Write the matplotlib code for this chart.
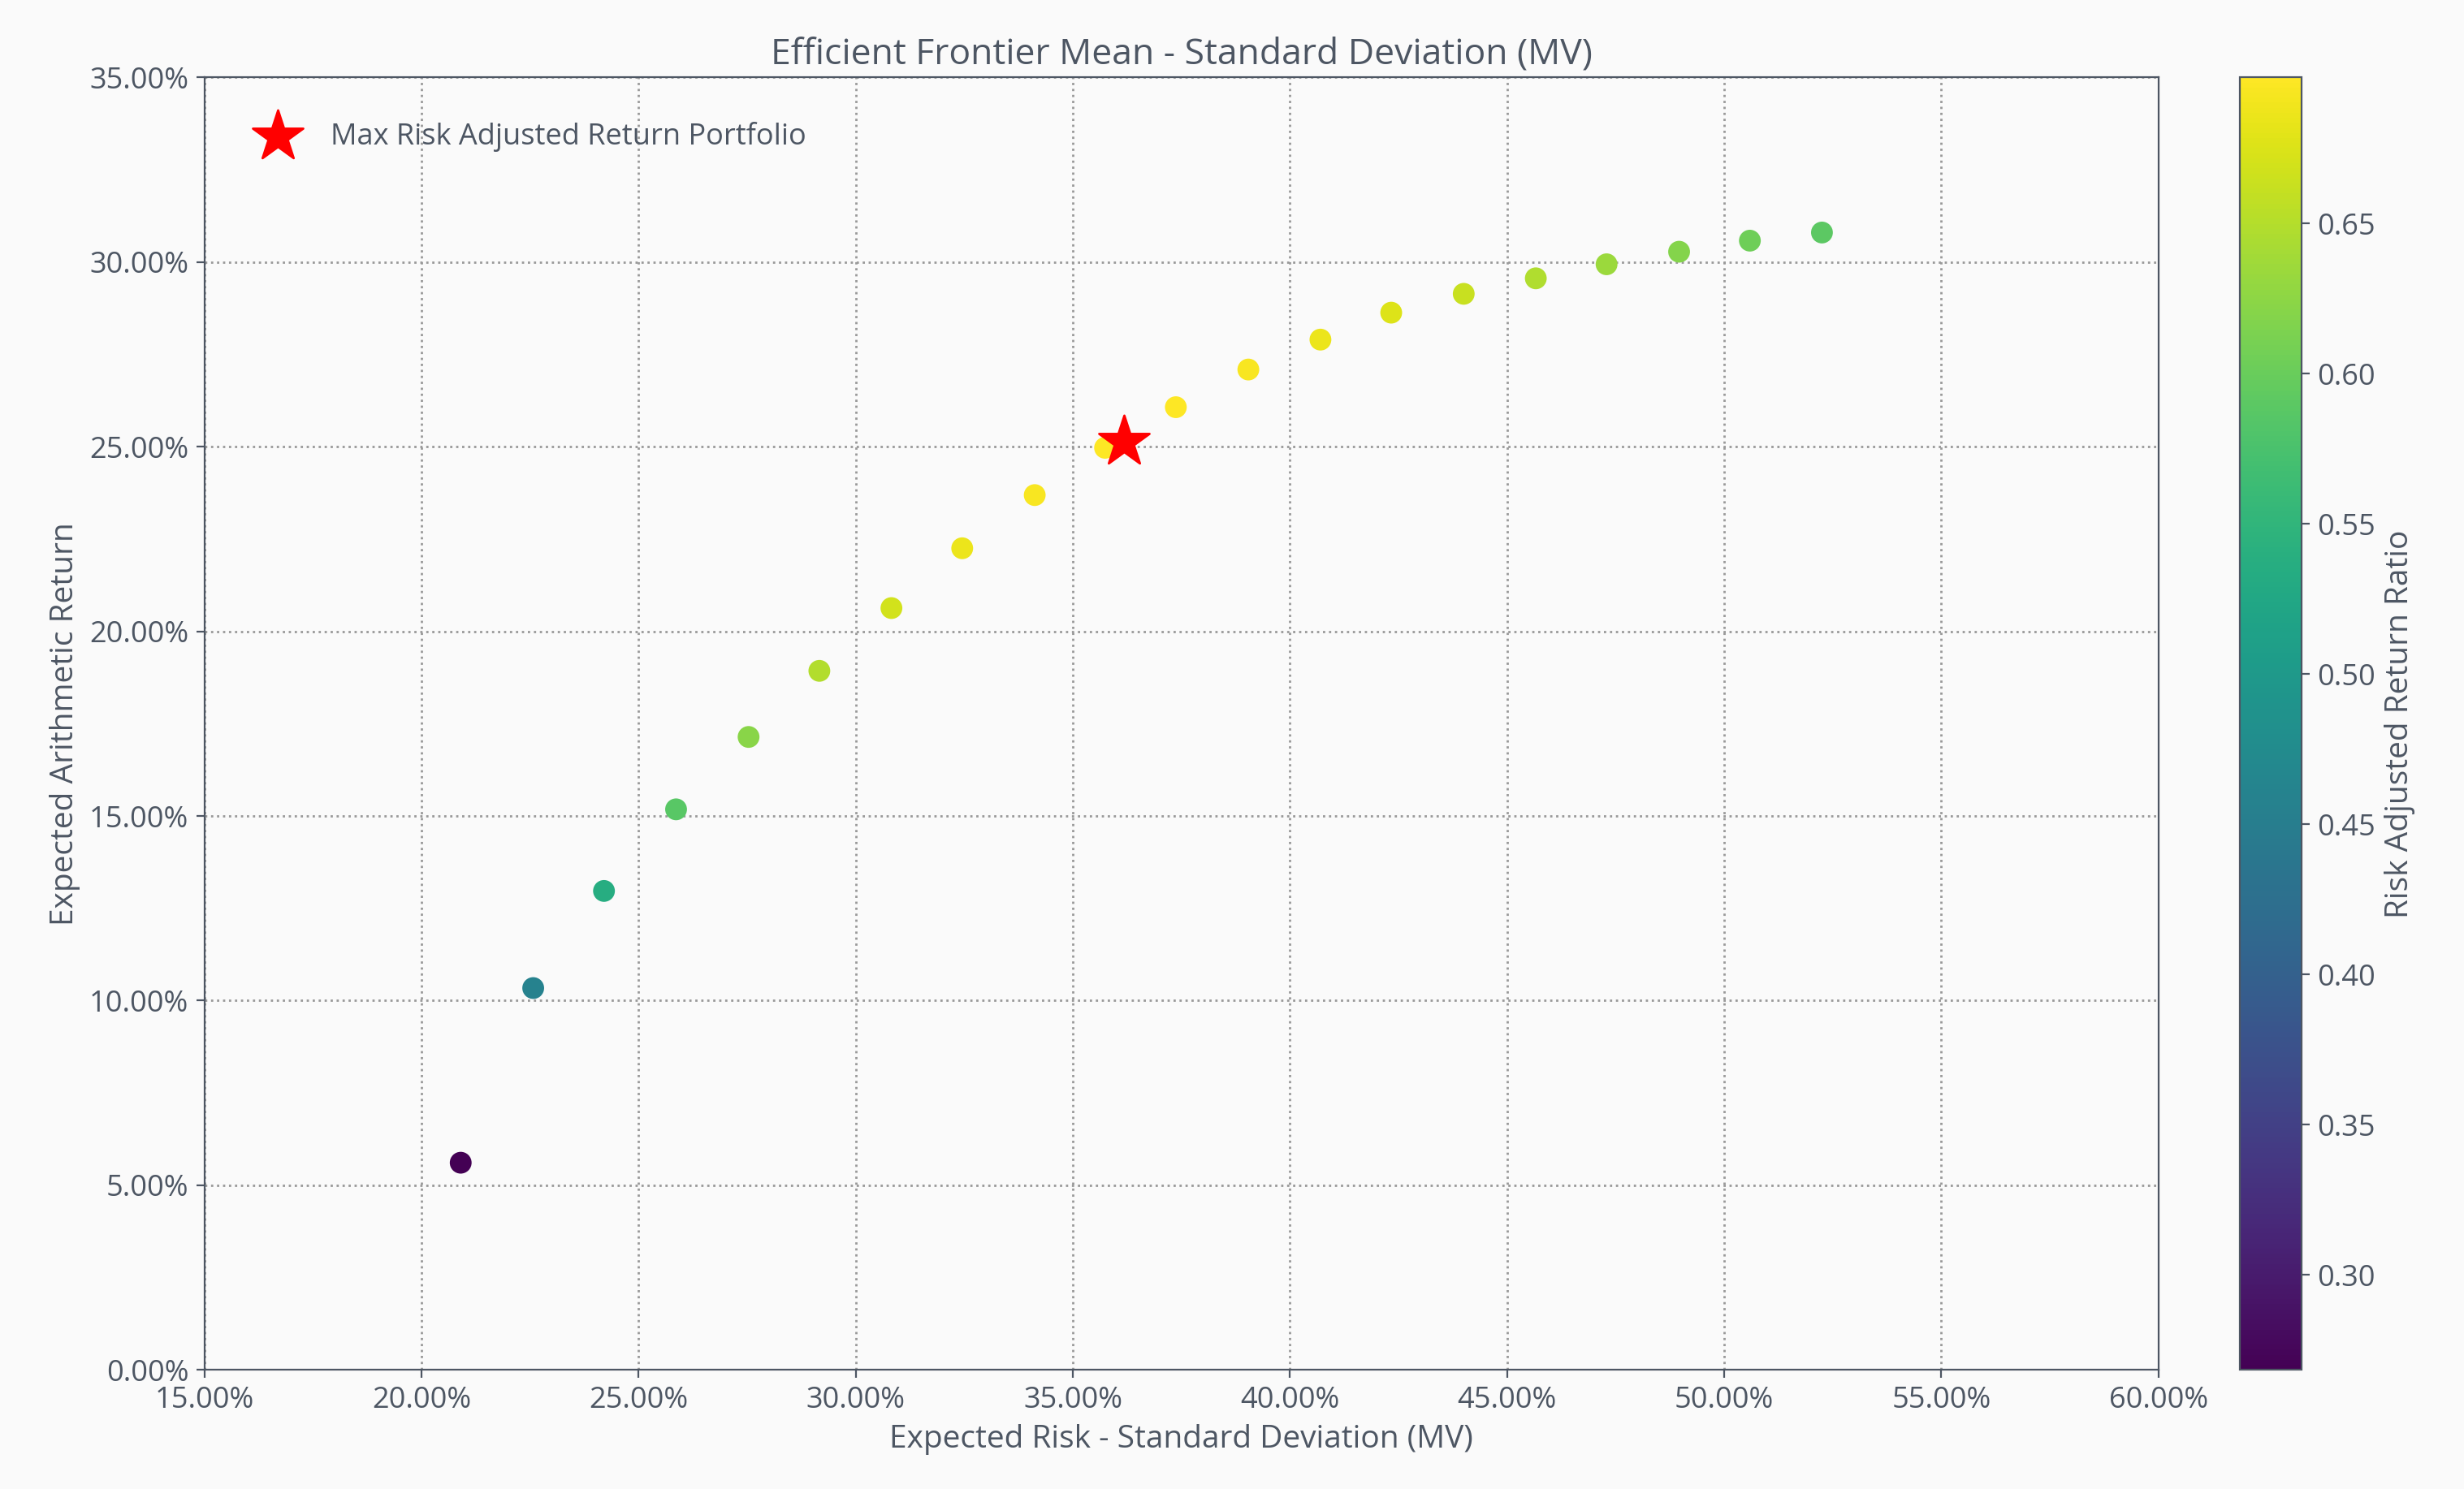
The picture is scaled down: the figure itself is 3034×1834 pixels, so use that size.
import numpy as np
import matplotlib
matplotlib.use('Agg')
from matplotlib import pyplot as plt
from matplotlib.ticker import PercentFormatter

risk = [20.9, 22.57, 24.2, 25.86, 27.53, 29.16, 30.82, 32.45, 34.12, 35.74,
        37.37, 39.04, 40.7, 42.33, 44.0, 45.66, 47.29, 48.96, 50.59, 52.25]
ret = [5.61, 10.34, 12.97, 15.18, 17.14, 18.93, 20.63, 22.25, 23.69, 24.97,
       26.07, 27.09, 27.9, 28.63, 29.14, 29.56, 29.94, 30.28, 30.58, 30.8]
best_risk, best_ret = 36.18, 25.13

x = np.array(risk) / 100
y = np.array(ret) / 100
ratio = y / x

txt = '#4d5663'
bg = '#fafafa'
plt.rcParams['font.family'] = ['Open Sans', 'DejaVu Sans']
plt.rcParams['text.color'] = txt
plt.rcParams['axes.labelcolor'] = txt
plt.rcParams['xtick.color'] = txt
plt.rcParams['ytick.color'] = txt

fig = plt.figure(figsize=(15.17, 9.17), dpi=200, facecolor=bg)
ax = fig.add_axes([0.083, 0.08, 0.793, 0.868], facecolor=bg)
cax = fig.add_axes([0.909, 0.08, 0.025, 0.868])

sc = ax.scatter(x, y, c=ratio, cmap='viridis', s=75, zorder=3)
ax.scatter([best_risk / 100], [best_ret / 100], marker='*', color='red', s=550,
           zorder=4, label='Max Risk Adjusted Return Portfolio')
cb = fig.colorbar(sc, cax=cax)
cb.set_label('Risk Adjusted Return Ratio', fontsize=14)
cb.ax.tick_params(labelsize=13)
cb.outline.set_edgecolor(txt)

ax.set_xlim(0.15, 0.60)
ax.set_ylim(0, 0.35)
ax.set_xticks(np.arange(0.15, 0.601, 0.05))
ax.set_yticks(np.arange(0, 0.351, 0.05))
ax.xaxis.set_major_formatter(PercentFormatter(1.0, decimals=2))
ax.yaxis.set_major_formatter(PercentFormatter(1.0, decimals=2))
ax.tick_params(labelsize=13)
ax.grid(True, linestyle=':', color='#999999', linewidth=1)
for s in ax.spines.values():
    s.set_color(txt)

ax.set_title('Efficient Frontier Mean - Standard Deviation (MV)', fontsize=16)
ax.set_xlabel('Expected Risk - Standard Deviation (MV)', fontsize=14)
ax.set_ylabel('Expected Arithmetic Return', fontsize=14)
ax.legend(loc='upper left', frameon=False, fontsize=13, borderpad=1.0)

plt.savefig('out.png', facecolor=bg)
